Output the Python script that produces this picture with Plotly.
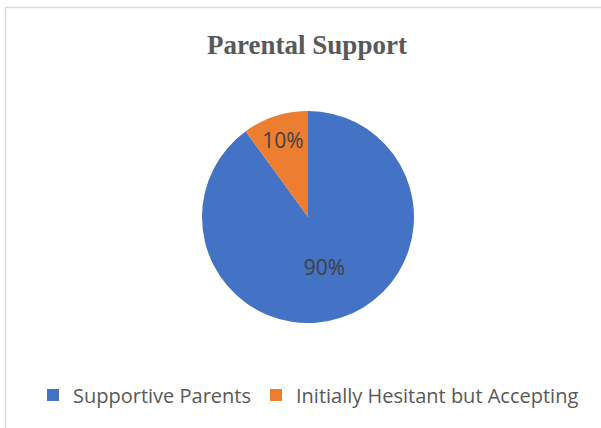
import plotly.graph_objects as go

labels = ["Supportive Parents", "Initially Hesitant but Accepting"]
values = [90, 10]
colors = ["#4472C4", "#ED7D31"]
title_text = "Parental Support"

W, H = 601, 428

fig = go.Figure()
fig.add_trace(go.Pie(
    labels=labels,
    values=values,
    marker=dict(colors=colors, line=dict(width=0)),
    sort=False,
    direction="clockwise",
    rotation=0,
    textinfo="percent",
    texttemplate="%{percent:.0%}",
    textposition="inside",
    insidetextorientation="horizontal",
    textfont=dict(family="Open Sans", size=21, color="#404040"),
    domain=dict(x=[202 / W, 414 / W], y=[1 - 323 / H, 1 - 111 / H]),
    hoverinfo="label+percent",
))

fig.update_layout(
    width=W, height=H,
    margin=dict(l=0, r=0, t=0, b=0),
    paper_bgcolor="white",
    plot_bgcolor="white",
    title=dict(
        text="<b>" + title_text + "</b>",
        x=307 / W, xanchor="center",
        y=1 - 45 / H, yanchor="middle",
        font=dict(family="Liberation Serif", size=27, color="#595959"),
    ),
    legend=dict(
        orientation="h",
        x=308.5 / W, xanchor="center",
        y=1 - 395 / H, yanchor="middle",
        font=dict(family="Open Sans", size=20, color="#595959"),
        traceorder="normal",
    ),
    showlegend=True,
    shapes=[dict(
        type="rect", xref="paper", yref="paper",
        x0=5.5 / W, x1=1.02, y0=-0.02, y1=1 - 7.5 / H,
        line=dict(color="#D9D9D9", width=1.5),
        fillcolor="rgba(0,0,0,0)", layer="below",
    )],
)

fig.write_html("out.html")
